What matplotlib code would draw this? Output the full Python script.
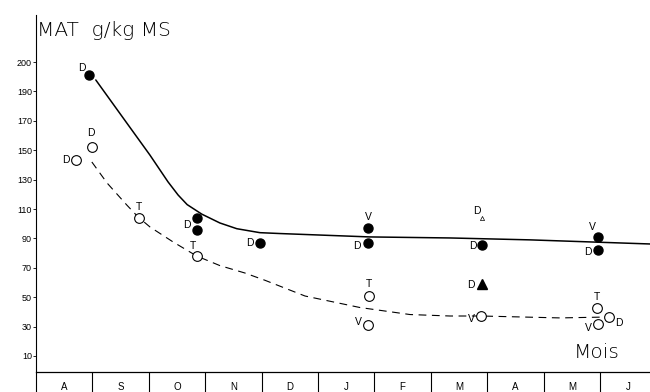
import matplotlib
matplotlib.use("Agg")
import matplotlib.pyplot as plt

plt.rcParams['font.family'] = ['Liberation Sans', 'DejaVu Sans']

# month row (Aug -> Jun), x = month index, each month is 1 unit wide
months = ['A', 'S', 'O', 'N', 'D', 'J', 'F', 'M', 'A', 'M', 'J']

# y axis tick labels (the printed "200" sits one step above 190)
ytick_pos = [10, 30, 50, 70, 90, 110, 130, 150, 170, 190, 210]
ytick_lab = ['10', '30', '50', '70', '90', '110', '130', '150', '170', '190', '200']

# solid curve (upper)
solid_x = [1.06, 1.61, 2.02, 2.34, 2.52, 2.68, 2.94, 3.26, 3.56, 3.97, 4.33, 5.92, 7.34, 8.76, 10.89]
solid_y = [197.8, 168.5, 146.7, 128.5, 119.5, 113.0, 106.5, 100.5, 96.6, 93.9, 93.3, 91.0, 90.3, 89.0, 86.2]

# dashed curve (lower)
dash_x = [0.99, 1.26, 1.61, 1.81, 2.02, 2.43, 2.85, 3.26, 3.70, 4.06, 4.77, 5.74, 6.63, 7.34, 7.89, 9.29, 10.12]
dash_y = [142.0, 127.7, 112.7, 104.6, 97.8, 87.6, 78.0, 71.5, 66.5, 61.5, 50.8, 43.0, 38.2, 37.2, 37.2, 35.9, 36.5]

# filled circles
full_x = [0.94, 2.85, 2.85, 3.97, 5.89, 5.89, 7.91, 9.96, 9.96]
full_y = [201.0, 104.0, 96.0, 87.0, 97.0, 87.0, 85.5, 91.0, 82.0]
full_lab = ['D', '', 'D', 'D', 'V', 'D', 'D', 'V', 'D']

# open circles
open_x = [0.71, 0.99, 1.83, 2.85, 5.90, 5.88, 7.89, 9.94, 9.96, 10.16]
open_y = [143.3, 152.0, 103.9, 78.0, 50.8, 31.1, 37.2, 42.6, 31.8, 36.5]
open_lab = ['D', 'D', 'T', 'T', 'T', 'V', 'V', 'T', 'V', 'D']

# triangles (March)
tri_full_x, tri_full_y, tri_full_lab = [7.91], [59.0], ['D']
tri_open_x, tri_open_y, tri_open_lab = [7.91], [103.9], ['D']

# label offsets in points
full_off = [(-5, 5), (0, 0), (-7, 3), (-7, 0), (0, 8), (-8, -2), (-7, -1), (-4, 7), (-7, -1)]
open_off = [(-7, 0), (-1, 10), (0, 8), (-3, 7), (0, 9), (-7, 2), (-7, -2), (0, 8), (-7, -3), (7, -4)]

fig = plt.figure(figsize=(6.5, 3.92), dpi=100)
ax = fig.add_axes([36/650, 20/392, 1 - 36/650, 357/392])

ax.plot(solid_x, solid_y, color='black', lw=1.1, solid_capstyle='round')
ax.plot(dash_x, dash_y, color='black', lw=0.8, linestyle=(0, (7, 5)))

ax.plot(full_x, full_y, 'o', color='black', ms=6.5)
ax.plot(open_x, open_y, 'o', mfc='white', mec='black', mew=0.8, ms=7)
ax.plot(tri_full_x, tri_full_y, '^', color='black', ms=7)
ax.plot(tri_open_x, tri_open_y, '^', mfc='white', mec='black', mew=0.5, ms=3)

def put_labels(xs, ys, labs, offs):
    for x, y, t, (dx, dy) in zip(xs, ys, labs, offs):
        if t:
            ax.annotate(t, (x, y), xytext=(dx, dy), textcoords='offset points',
                        ha='center', va='center', fontsize=7.5)

put_labels(full_x, full_y, full_lab, full_off)
put_labels(open_x, open_y, open_lab, open_off)
put_labels(tri_full_x, tri_full_y, tri_full_lab, [(-8, -1)])
put_labels(tri_open_x, tri_open_y, tri_open_lab, [(-4, 5)])

ax.set_xlim(0, 614/56.4)
ax.set_ylim(-0.9, 242)

for s in ['top', 'right']:
    ax.spines[s].set_visible(False)
ax.spines['left'].set_linewidth(0.8)
ax.spines['bottom'].set_linewidth(0.9)

ax.set_yticks(ytick_pos)
ax.set_yticklabels(ytick_lab)
ax.tick_params(axis='y', length=2.5, width=0.6, pad=0.5, labelsize=6.5)

ax.set_xticks([i + 0.5 for i in range(len(months))])
ax.set_xticklabels(months)
ax.tick_params(axis='x', length=0, pad=7, labelsize=7)

# month row dividers below the axis
ax.vlines(range(0, len(months)), -0.06, 0, transform=ax.get_xaxis_transform(),
          color='black', lw=0.8, clip_on=False)

big = dict(family=['DejaVu Sans'], fontweight='light', fontsize=14.5, va='center', color='black')
fig.text(37/650, 1 - 31/392, 'MAT  g/kg MS', ha='left', **big)
fig.text(597/650, 1 - 353/392, 'Mois', ha='center', **big)

fig.savefig('out.png', dpi=100)
